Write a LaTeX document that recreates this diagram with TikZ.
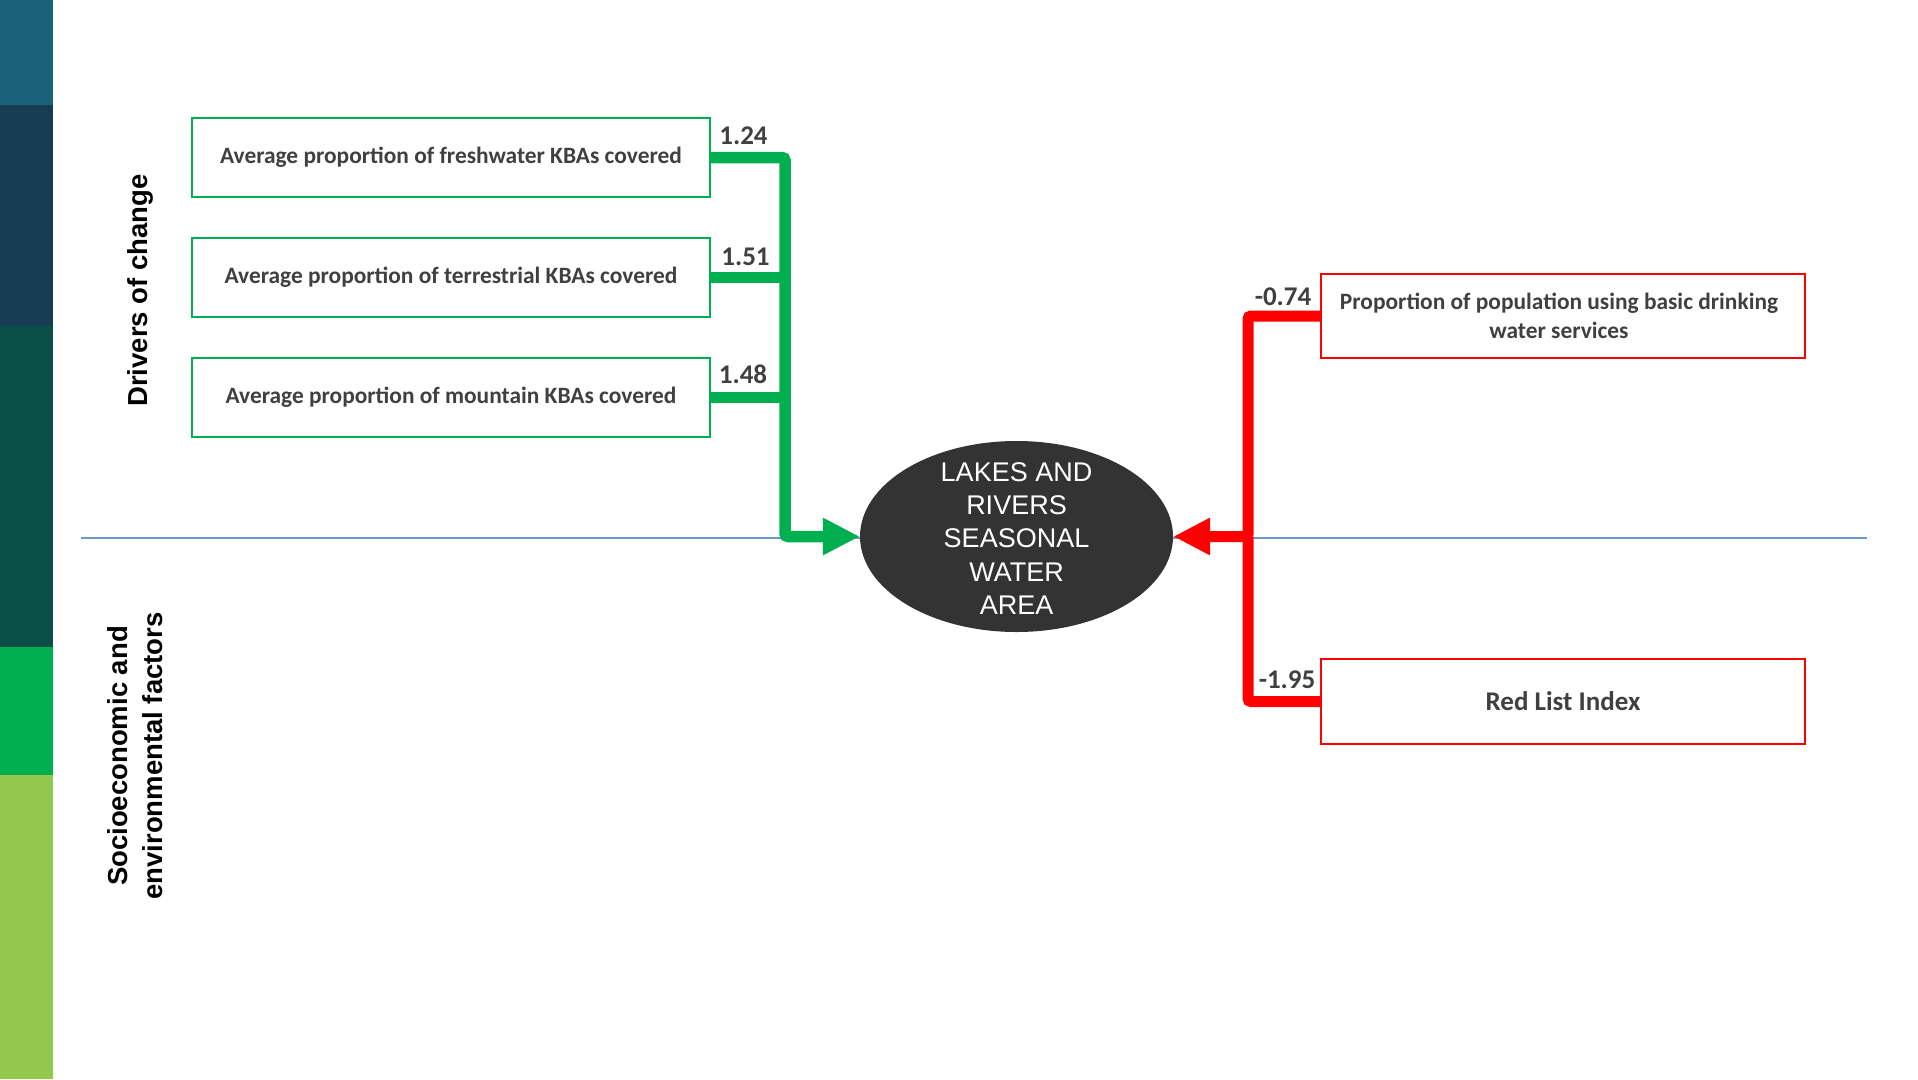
\documentclass[tikz,border=0pt]{standalone}
\usepackage{fontspec}
\setmainfont{Carlito}
\newfontfamily\arialfont{Liberation Sans}
\usetikzlibrary{arrows.meta,shapes.geometric}
\definecolor{barA}{HTML}{1A617A}
\definecolor{barB}{HTML}{173D55}
\definecolor{barC}{HTML}{0A4F45}
\definecolor{barD}{HTML}{00B050}
\definecolor{barE}{HTML}{92C84C}
\definecolor{cgreen}{HTML}{00B050}
\definecolor{cred}{HTML}{FF0000}
\definecolor{txt}{HTML}{404040}
\definecolor{cdark}{HTML}{333333}
\definecolor{sepblue}{HTML}{6A9BC8}
\tikzset{
  gbox/.style={draw=cgreen, line width=2pt, minimum width=518pt, minimum height=79pt, inner sep=0pt,
    font=\fontsize{23.4}{27}\selectfont\bfseries, text=txt},
  rbox/.style={draw=cred, line width=2pt, minimum width=484pt, minimum height=84pt, inner sep=0pt,
    font=\fontsize{23.4}{29.5}\selectfont\bfseries, text=txt, align=center},
  numlbl/.style={font=\fontsize{27}{30}\selectfont\bfseries, text=txt, anchor=base, inner sep=0pt},
  gconn/.style={draw=cgreen, line width=11.5pt, rounded corners=3pt},
  rconn/.style={draw=cred, line width=11pt, rounded corners=3pt},
  bigtip/.style={-{Triangle[length=37pt,width=35pt]}},
  sidelbl/.style={font=\arialfont\fontsize{27.5}{35}\selectfont\bfseries, text=black, rotate=90, align=center, inner sep=0pt},
  ctext/.style={font=\arialfont\fontsize{27}{33.3}\selectfont, text=white, align=center, inner sep=0pt}
}
\begin{document}
\begin{tikzpicture}[x=1pt,y=-1pt]
\useasboundingbox (0,0) rectangle (1918,1079);
\fill[white] (0,0) rectangle (1918,1079);
% left colour bar
\fill[barA] (0,0) rectangle (53,105);
\fill[barB] (0,105) rectangle (53,326);
\fill[barC] (0,326) rectangle (53,647);
\fill[barD] (0,647) rectangle (53,775);
\fill[barE] (0,775) rectangle (53,1079);
% separator
\draw[sepblue, line width=1.3pt] (81,538) -- (1867,538);
% side labels
\node[sidelbl, anchor=base] (drv) at (147,290.5) {Drivers of change};
\node[sidelbl] (soc) at (135.5,756) {Socioeconomic and\\environmental factors};
% green boxes
\node[gbox] (g1) at (451,157.5) {Average proportion of freshwater KBAs covered};
\node[gbox] (g2) at (451,277.5) {Average proportion of terrestrial KBAs covered};
\node[gbox] (g3) at (451,397.5) {Average proportion of mountain KBAs covered};
% red boxes
\node[rbox] (r1) at (1563,316) {Proportion of population using basic drinking\hspace*{8pt}\\water services\hspace*{8pt}};
\node[rbox, minimum height=85pt, font=\fontsize{27}{30}\selectfont\bfseries] (r2) at (1563,701.5) {Red List Index};
% central ellipse
\node[ellipse, fill=cdark, minimum width=313pt, minimum height=191pt, inner sep=0pt] (c) at (1016.5,536.5) {};
\node[ctext] (ct) at (1016.5,538.5) {LAKES AND\\RIVERS\\SEASONAL\\WATER\\AREA};
% junction coordinates
\coordinate (gc) at (785,536.5);
\coordinate (rc) at (1248,536.5);
% green connectors
\draw[gconn, bigtip] (g1.east) -| (gc) -- (c.west);
\draw[gconn] (g2.east) -- (g2.east -| gc);
\draw[gconn] (g3.east) -- (g3.east -| gc);
% red connectors
\draw[rconn, bigtip] (r1.west) -| (rc) -- (c.east);
\draw[rconn] (r2.west) -| (rc);
% coefficient labels
\node[numlbl] (l1) at (743.5,144) {1.24};
\node[numlbl] (l2) at (745.5,265) {1.51};
\node[numlbl] (l3) at (743,383) {1.48};
\node[numlbl] (l4) at (1283,305) {-0.74};
\node[numlbl] (l5) at (1287,688) {-1.95};
\end{tikzpicture}
\end{document}
